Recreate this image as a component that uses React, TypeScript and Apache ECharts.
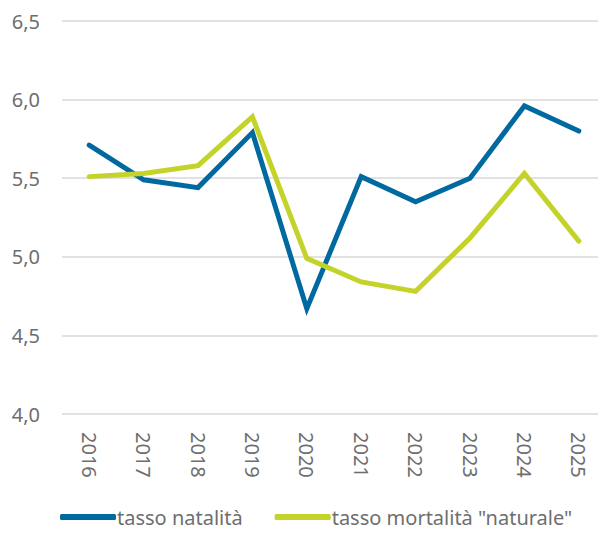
import React, { useEffect, useRef } from "react";
import * as echarts from "echarts";

const years = ["2016", "2017", "2018", "2019", "2020", "2021", "2022", "2023", "2024", "2025"];
const natalita = [5.71, 5.49, 5.44, 5.79, 4.67, 5.51, 5.35, 5.5, 5.96, 5.8];
const mortalita = [5.51, 5.53, 5.58, 5.89, 4.99, 4.84, 4.78, 5.12, 5.53, 5.1];
const seriesNames = ["tasso natalità", 'tasso mortalità "naturale"'];

const FONT = "'Noto Sans', sans-serif";

export default function App() {
  const ref = useRef<HTMLDivElement>(null);
  useEffect(() => {
    if (!ref.current) return;
    const chart = echarts.init(ref.current, undefined, { renderer: "svg" });
    chart.setOption({
      animation: false,
      textStyle: { fontFamily: FONT },
      grid: { left: 62, right: 0, top: 21, bottom: 120, containLabel: false },
      legend: {
        left: 55,
        bottom: 2,
        itemWidth: 56,
        itemHeight: 6,
        itemGap: 32,
        icon: "roundRect",
        textStyle: { fontSize: 20, color: "#6e6e6e", fontFamily: FONT, padding: [0, 0, 0, -4] },
        data: seriesNames,
      },
      xAxis: {
        type: "category",
        data: years,
        boundaryGap: true,
        axisLine: { show: false },
        axisTick: { show: false },
        axisLabel: { rotate: -90, fontSize: 20, color: "#6e6e6e", margin: 18, fontFamily: FONT },
      },
      yAxis: {
        type: "value",
        min: 4,
        max: 6.5,
        interval: 0.5,
        axisLine: { show: false },
        axisTick: { show: false },
        splitLine: { lineStyle: { color: "#d9d9d9", width: 1.5 } },
        axisLabel: {
          fontSize: 20,
          color: "#6e6e6e",
          margin: 22,
          fontFamily: FONT,
          formatter: (v: number) => v.toFixed(1).replace(".", ","),
        },
      },
      series: [
        {
          name: seriesNames[0],
          type: "line",
          data: natalita,
          symbol: "none",
          lineStyle: { color: "#0069a0", width: 5, cap: "round", join: "miter" },
          itemStyle: { color: "#0069a0" },
        },
        {
          name: seriesNames[1],
          type: "line",
          data: mortalita,
          symbol: "none",
          lineStyle: { color: "#c3d32a", width: 5, cap: "round", join: "miter" },
          itemStyle: { color: "#c3d32a" },
        },
      ],
    });
    return () => chart.dispose();
  }, []);
  return <div ref={ref} style={{ width: 606, height: 534, margin: -8 }} />;
}
